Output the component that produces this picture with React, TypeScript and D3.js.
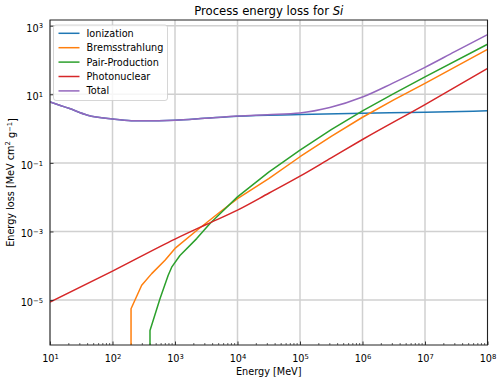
import React, { useEffect, useRef } from 'react'
import * as d3 from 'd3'

const width = 500
const height = 384
const margin = { top: 20, right: 12.5, bottom: 39, left: 50 }

// energy [MeV], loss [MeV cm^2 g^-1]
const ionization: [number, number][] = [
  [10, 6.0], [20, 3.9], [40, 2.45], [100, 1.89], [200, 1.69], [300, 1.68],
  [1000, 1.76], [3000, 2.0], [1e4, 2.3], [1e5, 2.57], [1e6, 2.8], [1e7, 3.0], [1e8, 3.3]
]
const bremsstrahlung: [number, number][] = [
  [198, 1e-8], [198, 5.6e-6], [293, 2.7e-5], [424, 5.9e-5], [692, 1.45e-4], [1000, 3.2e-4],
  [2223, 1.07e-3], [5250, 3.7e-3], [1e4, 9.1e-3], [3.16e4, 0.035], [1e5, 0.151], [3.16e5, 0.59],
  [1e6, 2.14], [3.16e6, 6.9], [1e7, 20.9], [1e8, 204]
]
const pairProduction: [number, number][] = [
  [398, 1e-8], [398, 1.3e-6], [575, 1.1e-5], [776, 5.2e-5], [885, 9.1e-5], [1200, 2.0e-4],
  [2223, 6.2e-4], [3630, 1.7e-3], [5250, 3.3e-3], [1e4, 1.02e-2], [3.16e4, 0.054], [1e5, 0.234],
  [3.16e5, 0.93], [1e6, 3.3], [3.16e6, 10.5], [1e7, 32], [1e8, 288]
]
const photonuclear: [number, number][] = [
  [10, 8.7e-6], [100, 7e-5], [1000, 6e-4], [3.16e3, 1.6e-3], [1e4, 4.2e-3], [3.16e4, 1.3e-2],
  [1e5, 4.1e-2], [3.16e5, 0.14], [1e6, 0.48], [1e7, 5.0], [1e8, 57]
]
const total: [number, number][] = [
  [10, 6.0], [20, 3.9], [40, 2.45], [100, 1.89], [200, 1.69], [300, 1.68], [1000, 1.76],
  [3000, 2.0], [1e4, 2.32], [3e4, 2.55], [1e5, 2.85], [3e5, 4.1], [1e6, 8.3], [3e6, 20.8],
  [1e7, 61], [3e7, 175], [1e8, 550]
]

const seriesNames = ['Ionization', 'Bremsstrahlung', 'Pair-Production', 'Photonuclear', 'Total']
const seriesData = [ionization, bremsstrahlung, pairProduction, photonuclear, total]
const smooth = [true, false, false, true, true]
const colors = ['#1f77b4', '#ff7f0e', '#2ca02c', '#d62728', '#9467bd']

const xDomain = [1e1, 1e8]
const yDomain = [Math.pow(10, -6.31), Math.pow(10, 3.166)]
const xTicks = [1e1, 1e2, 1e3, 1e4, 1e5, 1e6, 1e7, 1e8]
const yTicks = [1e-5, 1e-3, 1e-1, 1e1, 1e3]

const font = 'DejaVu Sans, sans-serif'

export default function App() {
  const xRef = useRef<SVGGElement>(null)
  const yRef = useRef<SVGGElement>(null)

  const xScale = d3.scaleLog().domain(xDomain).range([margin.left, width - margin.right])
  const yScale = d3.scaleLog().domain(yDomain).range([height - margin.bottom, margin.top])

  const xMinor: number[] = []
  for (let d = 1; d < 8; d++) for (let k = 2; k < 10; k++) xMinor.push(k * Math.pow(10, d))

  useEffect(() => {
    const exp = (v: number) => Math.round(Math.log10(v))
    const supLabel = (sel: any) => {
      sel.selectAll('text').each(function (this: SVGTextElement, d: any) {
        const t = d3.select(this)
        t.text(null)
        t.append('tspan').text('10')
        const e = exp(d)
        t.append('tspan')
          .attr('dy', '-0.45em')
          .attr('font-size', '6.8px')
          .text(e < 0 ? '\u2212' + Math.abs(e) : String(e))
      })
    }
    const xAxis = d3.axisBottom(xScale).tickValues(xTicks).tickSizeInner(-3.5).tickSizeOuter(0).tickPadding(8)
    const yAxis = d3.axisLeft(yScale).tickValues(yTicks).tickSizeInner(-3.5).tickSizeOuter(0).tickPadding(7)
    const gx = d3.select(xRef.current as SVGGElement)
    gx.call(xAxis as any)
    gx.select('.domain').remove()
    gx.selectAll('line').attr('stroke', '#222').attr('stroke-width', 0.9)
    gx.selectAll('text').attr('font-family', font).attr('font-size', '9.7px').attr('fill', '#000').attr('dy', '0.9em')
    supLabel(gx)
    const gy = d3.select(yRef.current as SVGGElement)
    gy.call(yAxis as any)
    gy.select('.domain').remove()
    gy.selectAll('line').attr('stroke', '#222').attr('stroke-width', 0.9)
    gy.selectAll('text').attr('font-family', font).attr('font-size', '9.7px').attr('fill', '#000').attr('dy', '0.55em')
    supLabel(gy)
  }, [])

  const x0 = margin.left
  const x1 = width - margin.right
  const y0 = margin.top
  const y1 = height - margin.bottom

  const makeLine = (i: number) =>
    d3.line<[number, number]>()
      .x(d => xScale(d[0]))
      .y(d => yScale(d[1]))
      .curve(smooth[i] ? d3.curveMonotoneX : d3.curveLinear)(seriesData[i]) || ''

  return (
    <svg width={width} height={height} style={{ position: 'absolute', left: 0, top: 0, background: '#fff' }}>
      <defs>
        <clipPath id="plot">
          <rect x={x0} y={y0} width={x1 - x0} height={y1 - y0} />
        </clipPath>
      </defs>
      {/* grid */}
      <g stroke="#d0d0d0" strokeWidth={1.5}>
        {xTicks.map(t => <line key={'gx' + t} x1={xScale(t)} x2={xScale(t)} y1={y0} y2={y1} />)}
        {yTicks.map(t => <line key={'gy' + t} x1={x0} x2={x1} y1={yScale(t)} y2={yScale(t)} />)}
      </g>
      {/* minor x ticks */}
      <g stroke="#222" strokeWidth={0.7}>
        {xMinor.map(t => <line key={'m' + t} x1={xScale(t)} x2={xScale(t)} y1={y1} y2={y1 - 2} />)}
      </g>
      <g clipPath="url(#plot)" fill="none" strokeWidth={1.5}>
        {seriesNames.map((n, i) => (
          <path key={n} d={makeLine(i)} stroke={colors[i]} strokeLinejoin="round" />
        ))}
      </g>
      <rect x={x0} y={y0} width={x1 - x0} height={y1 - y0} fill="none" stroke="#222" strokeWidth={1} />
      <g ref={xRef} transform={`translate(0, ${y1})`} />
      <g ref={yRef} transform={`translate(${x0}, 0)`} />
      {/* legend */}
      <g>
        <rect x={53.5} y={25} width={114} height={75.5} rx={2.5} fill="#fff" fillOpacity={0.8} stroke="#cccccc" strokeWidth={0.8} />
        {seriesNames.map((n, i) => (
          <g key={n} transform={`translate(0, ${33.3 + i * 14.4})`}>
            <line x1={58.5} x2={79.5} y1={0} y2={0} stroke={colors[i]} strokeWidth={1.5} />
            <text x={86.5} y={0} dy="0.35em" fontFamily={font} fontSize="9.7px">{n}</text>
          </g>
        ))}
      </g>
      {/* titles */}
      <text x={(x0 + x1) / 2} y={14.5} textAnchor="middle" fontFamily={font} fontSize="11.7px">
        Process energy loss for <tspan fontStyle="italic">Si</tspan>
      </text>
      <text x={(x0 + x1) / 2} y={375} textAnchor="middle" fontFamily={font} fontSize="9.7px">Energy [MeV]</text>
      <text transform={`translate(13.5, ${(y0 + y1) / 2}) rotate(-90)`} textAnchor="middle" fontFamily={font} fontSize="9.7px">
        Energy loss [MeV cm<tspan dy="-0.45em" fontSize="6.8px">2</tspan>
        <tspan dy="0.45em"> g</tspan>
        <tspan dy="-0.45em" fontSize="6.8px">{'\u2212'}1</tspan>
        <tspan dy="0.45em">]</tspan>
      </text>
    </svg>
  )
}
